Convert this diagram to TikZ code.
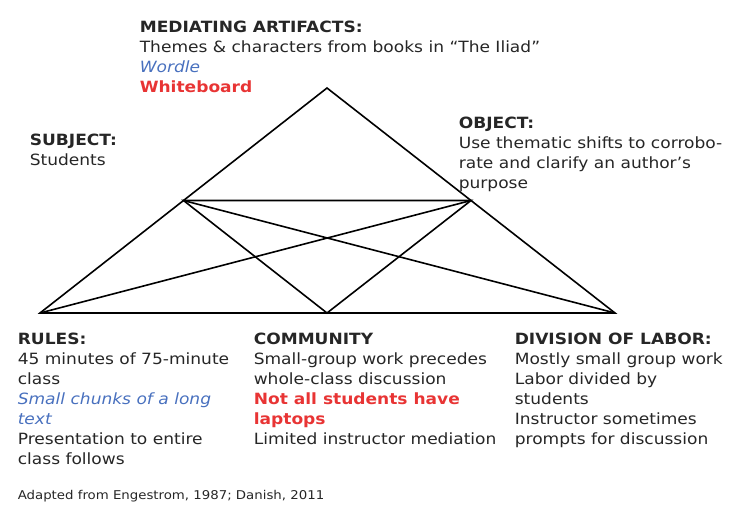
\documentclass[tikz,border=0pt]{standalone}
\usepackage{fontspec}
\setmainfont{DejaVu Sans}[FakeStretch=1.1]
\usetikzlibrary{positioning}
\definecolor{wordblue}{RGB}{72,112,190}
\definecolor{alertred}{RGB}{232,52,52}
\definecolor{textgray}{RGB}{38,38,38}
\newcommand{\labelFont}{\fontsize{15.5}{20}\selectfont}
\newcommand{\noteFont}{\fontsize{12.1}{14}\selectfont}
\newcommand{\toolIt}[1]{{\color{wordblue}\itshape #1}}
\newcommand{\issueBf}[1]{{\color{alertred}\bfseries #1}}

\begin{document}
\begin{tikzpicture}[x=1pt, y=-1pt, line width=1.6pt,
		every node/.style={anchor=base west, align=left, inner sep=0pt, text=textgray, font=\labelFont}]
	\useasboundingbox (0,0) rectangle (729,504);
	% activity triangle
	\coordinate (apex) at (327,88);
	\coordinate (subjcorner) at (40,313);
	\coordinate (objcorner) at (615,313);
	\coordinate (leftmid) at (183.5,200.5);
	\coordinate (rightmid) at (471,200.5);
	\coordinate (basemid) at (327,313);
	\draw (apex) -- (subjcorner) -- (objcorner) -- cycle;
	\draw (leftmid) -- (rightmid) -- (basemid) -- cycle;
	\draw (leftmid) -- (objcorner);
	\draw (rightmid) -- (subjcorner);
	% labels (base = last line)
	\node (artifacts) at (139,92) {\textbf{MEDIATING ARTIFACTS:}\\
		Themes \& characters from books in “The Iliad”\\
		\toolIt{Wordle}\\
		\issueBf{Whiteboard}};
	\node (subject) at (29,165) {\textbf{SUBJECT:}\\Students};
	\node (object) at (458,188) {\textbf{OBJECT:}\\
		Use thematic shifts to corrobo-\\
		rate and clarify an author’s\\
		purpose};
	\node (rules) at (17,464) {\textbf{RULES:}\\
		45 minutes of 75-minute\\
		class\\
		\toolIt{Small chunks of a long}\\
		\toolIt{text}\\
		Presentation to entire\\
		class follows};
	\node (community) at (253,444) {\textbf{COMMUNITY}\\
		Small-group work precedes\\
		whole-class discussion\\
		\issueBf{Not all students have}\\
		\issueBf{laptops}\\
		Limited instructor mediation};
	\node (labor) at (514,444) {\textbf{DIVISION OF LABOR:}\\
		Mostly small group work\\
		Labor divided by\\
		students\\
		Instructor sometimes\\
		prompts for discussion};
	\node[font=\noteFont] (source) at (17,499) {Adapted from Engestrom, 1987; Danish, 2011};
\end{tikzpicture}
\end{document}
